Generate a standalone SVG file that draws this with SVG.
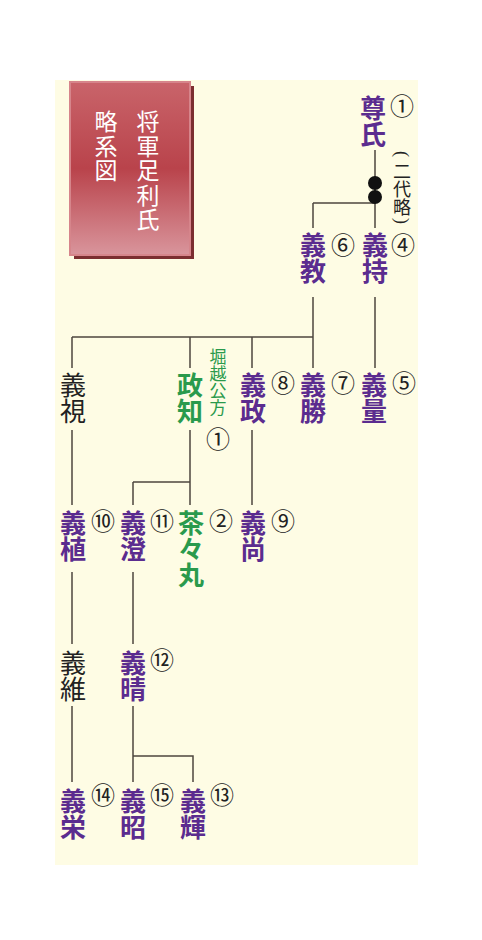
<svg xmlns="http://www.w3.org/2000/svg" width="482" height="940" viewBox="0 0 482 940">
<defs>
<linearGradient id="tg" x1="0" y1="0" x2="0" y2="1">
<stop offset="0" stop-color="#c9646a"/>
<stop offset="0.5" stop-color="#b9434b"/>
<stop offset="1" stop-color="#d9959c"/>
</linearGradient>
<style>
.n{font-family:"Noto Sans CJK JP","Noto Sans CJK SC",sans-serif;font-size:26px;writing-mode:vertical-rl;font-weight:700}
.p{fill:#5b2c8f}
.g{fill:#2a9a4c}
.k{fill:#222;font-weight:400}
.c{font-family:"Noto Sans CJK JP","DejaVu Sans",sans-serif;font-size:24px;text-anchor:middle;dominant-baseline:central;fill:#222}
.s{font-family:"Noto Sans CJK JP",sans-serif;font-size:17px;writing-mode:vertical-rl;fill:#2a9a4c}
.r{font-family:"Liberation Serif",serif;font-size:18px;text-anchor:middle;dominant-baseline:central;fill:#222}
.v{font-family:"Noto Sans CJK JP",sans-serif;font-size:18px;writing-mode:vertical-rl;fill:#222}
.t{font-family:"Noto Sans CJK JP",sans-serif;font-size:23px;writing-mode:vertical-rl;fill:#fff;letter-spacing:1.5px}
.l{stroke:#4d463e;stroke-width:1.5;fill:none}
</style>
</defs>
<rect x="0" y="0" width="482" height="940" fill="#fff"/>
<rect x="55" y="80" width="363" height="785" fill="#fefce4"/>
<g id="title">
<rect x="74" y="86" width="120" height="173" fill="#7c2e30"/>
<rect x="70" y="82" width="120" height="173" fill="url(#tg)" stroke="#d6858b" stroke-width="2"/>
<text class="t" x="148" y="110">将軍足利氏</text>
<text class="t" x="106" y="110">略系図</text>
</g>
<g id="connectors">
<path class="l" d="M375 150V228M313 297V337M313 203H375M313 203V228M72 337H313M72 337V368M190 337V368M252 337V368M313 337V368M375 297V368"/>
<path class="l" d="M72 430V505M190 430V505M133 482H190M133 482V505M252 430V505"/>
<path class="l" d="M72 572V644M133 572V644M72 706V782M133 706V782M133 756H193V782"/>
<circle cx="375" cy="183" r="7" fill="#111"/>
<circle cx="375" cy="197" r="7" fill="#111"/>
</g>
<g id="takauji"><text class="n p" x="373" y="95">尊氏</text><text class="c" x="402" y="104">①</text></g>
<g id="omit"><text class="r" transform="translate(402 154) rotate(90)">(</text><text class="v" x="402" y="162">二代略</text><text class="r" transform="translate(402 221) rotate(90)">)</text></g>
<g id="yoshimochi"><text class="n p" x="375" y="232">義持</text><text class="c" x="403" y="243">④</text></g>
<g id="yoshinori"><text class="n p" x="313" y="232">義教</text><text class="c" x="343" y="243">⑥</text></g>
<g id="yoshimi"><text class="n k" x="73" y="372">義視</text></g>
<g id="masatomo"><text class="n g" x="190" y="372">政知</text>
<text class="s" x="218" y="348">堀越公方</text><text class="c" x="218" y="437">①</text></g>
<g id="yoshimasa"><text class="n p" x="253" y="372">義政</text><text class="c" x="283" y="381">⑧</text></g>
<g id="yoshikatsu"><text class="n p" x="313" y="372">義勝</text><text class="c" x="343" y="381">⑦</text></g>
<g id="yoshikazu"><text class="n p" x="374" y="372">義量</text><text class="c" x="404" y="381">⑤</text></g>
<g id="yoshitane"><text class="n p" x="73" y="510">義植</text><text class="c" x="103" y="519">⑩</text></g>
<g id="yoshizumi"><text class="n p" x="133" y="510">義澄</text><text class="c" x="162" y="519">⑪</text></g>
<g id="chachamaru"><text class="n g" x="191" y="510">茶々丸</text><text class="c" x="221" y="519">②</text></g>
<g id="yoshihisa"><text class="n p" x="253" y="510">義尚</text><text class="c" x="283" y="519">⑨</text></g>
<g id="yoshitsuna"><text class="n k" x="73" y="650">義維</text></g>
<g id="yoshiharu"><text class="n p" x="133" y="650">義晴</text><text class="c" x="162" y="658">⑫</text></g>
<g id="yoshihide"><text class="n p" x="73" y="788">義栄</text><text class="c" x="103" y="793">⑭</text></g>
<g id="yoshiaki"><text class="n p" x="133" y="788">義昭</text><text class="c" x="162" y="793">⑮</text></g>
<g id="yoshiteru"><text class="n p" x="193" y="788">義輝</text><text class="c" x="222" y="793">⑬</text></g>
</svg>
